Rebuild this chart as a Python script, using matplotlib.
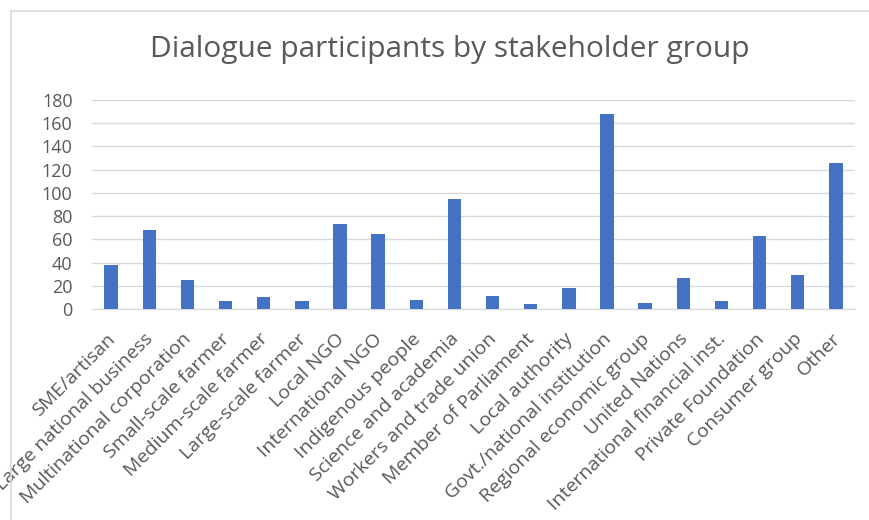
import matplotlib
matplotlib.use('Agg')
import matplotlib.pyplot as plt
import matplotlib.transforms as mtransforms
from matplotlib.lines import Line2D

# Stakeholder groups and participant counts.
groups = [
    'SME/artisan', 'Large national business', 'Multinational corporation',
    'Small-scale farmer', 'Medium-scale farmer', 'Large-scale farmer',
    'Local NGO', 'International NGO', 'Indigenous people',
    'Science and academia', 'Workers and trade union', 'Member of Parliament',
    'Local authority', 'Govt./national institution', 'Regional economic group',
    'United Nations', 'International financial inst.', 'Private Foundation',
    'Consumer group', 'Other',
]
participants = [38, 68, 25, 7, 10, 7, 73, 65, 8, 95, 11, 4, 18, 168, 5, 27, 7, 63, 29, 126]
y_ticks = [0, 20, 40, 60, 80, 100, 120, 140, 160, 180]

plt.rcParams['font.family'] = ['Open Sans', 'DejaVu Sans']
text_grey = '#595959'
grid_grey = '#D9D9D9'

fig = plt.figure(figsize=(8.69, 5.2), dpi=100)
ax = fig.add_axes([92 / 869, 1 - 309 / 520, (855 - 92) / 869, (309 - 100) / 520])

x = range(len(groups))
ax.bar(x, participants, width=0.35, color='#4472C4', zorder=3)

ax.set_ylim(0, 180)
ax.set_xlim(-0.5, len(groups) - 0.5)
ax.set_yticks(y_ticks)
ax.set_xticks(list(x))
ax.set_xticklabels(groups, rotation=45, ha='right', rotation_mode='anchor')
ax.tick_params(axis='both', length=0, colors=text_grey)
ax.tick_params(axis='y', pad=14, labelsize=13)
ax.tick_params(axis='x', pad=15, labelsize=14)

# nudge rotated labels a little to the left, like Excel places them
shift = mtransforms.ScaledTranslation(-5 / 100, 0, fig.dpi_scale_trans)
for lbl in ax.get_xticklabels():
    lbl.set_transform(lbl.get_transform() + shift)

ax.grid(axis='y', color=grid_grey, linewidth=1, zorder=0)
for side in ['top', 'right', 'left']:
    ax.spines[side].set_visible(False)
ax.spines['bottom'].set_color(grid_grey)

fig.text(450 / 869, 1 - 50 / 520, 'Dialogue participants by stakeholder group',
         ha='center', va='center', fontsize=21.5, color=text_grey)

# Chart frame (only top and left edges are visible in the reference).
fig.add_artist(Line2D([11 / 869, 1], [1 - 11 / 520, 1 - 11 / 520], color=grid_grey, lw=1.2))
fig.add_artist(Line2D([11 / 869, 11 / 869], [0, 1 - 11 / 520], color=grid_grey, lw=1.2))

fig.savefig('out.png', dpi=100)
